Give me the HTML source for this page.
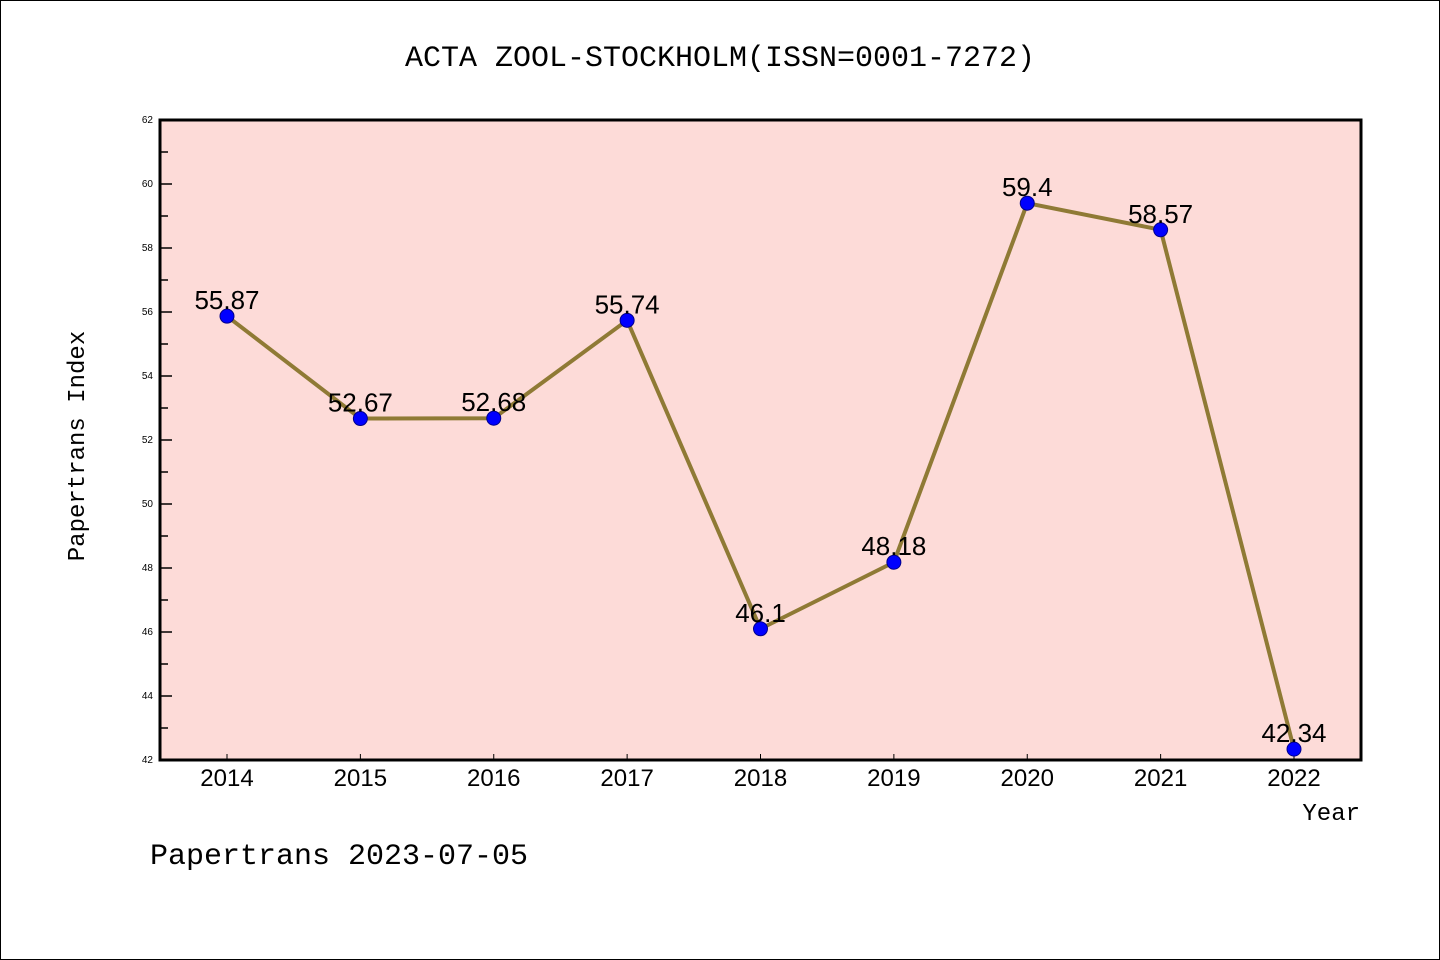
<!DOCTYPE html>
<html><head><meta charset="utf-8"><style>body{margin:0;background:#fff}svg{display:block}</style></head>
<body>
<svg width="1440" height="960" xmlns="http://www.w3.org/2000/svg" font-family="'Liberation Mono','DejaVu Sans Mono',monospace">
<rect x="0.5" y="0.5" width="1439" height="959" fill="#fff" stroke="#000"/>
<text x="720" y="66" text-anchor="middle" font-size="30">ACTA ZOOL-STOCKHOLM(ISSN=0001-7272)</text>
<rect x="160" y="120" width="1201" height="640" fill="#fddbd8"/>
<g id="axes"></g>
<g id="series"></g>
<rect x="160" y="120" width="1201" height="640" fill="none" stroke="#000" stroke-width="3"/>
<text transform="translate(84,446) rotate(-90)" text-anchor="middle" font-size="24">Papertrans Index</text>
<text x="1360" y="820" text-anchor="end" font-size="24">Year</text>
<text x="150" y="864" font-size="30">Papertrans 2023-07-05</text>
</svg>
<script>
const years=[2014,2015,2016,2017,2018,2019,2020,2021,2022];
const values=[55.87,52.67,52.68,55.74,46.1,48.18,59.4,58.57,42.34];
const labels=["55.87","52.67","52.68","55.74","46.1","48.18","59.4","58.57","42.34"];
const yTicks=[42,44,46,48,50,52,54,56,58,60,62];
const NS="http://www.w3.org/2000/svg";
const yMin=42,yMax=62,plotTop=120,plotBot=760;
function ys(v){return plotBot-(v-yMin)/(yMax-yMin)*(plotBot-plotTop);}
function xs(y){return 227+(y-2014)*133.375;}
function mk(t,a,p){const e=document.createElementNS(NS,t);for(const k in a)e.setAttribute(k,a[k]);p.appendChild(e);return e;}
const ax=document.getElementById('axes'),sr=document.getElementById('series');
yTicks.forEach((v,i)=>{
 const t=mk('text',{x:153,y:ys(v)+3,'text-anchor':'end','font-size':10,'font-family':'Liberation Sans,sans-serif'},ax);
 
 
 t.textContent=v;
 mk('line',{x1:160,x2:172,y1:ys(v),y2:ys(v),stroke:'#000','stroke-width':1.5},ax);
 if(i<yTicks.length-1){const m=ys(v+1);mk('line',{x1:160,x2:168,y1:m,y2:m,stroke:'#000','stroke-width':1.5},ax);}
});
years.forEach(y=>{
 mk('line',{x1:xs(y),x2:xs(y),y1:760,y2:754,stroke:'#000','stroke-width':1},ax);
 const t=mk('text',{x:xs(y),y:786,'text-anchor':'middle','font-size':24,'font-family':'Liberation Sans,sans-serif'},ax);
 
 
 t.textContent=y;
});
const pts=years.map((y,i)=>xs(y)+','+ys(values[i])).join(' ');
const pl=mk('polyline',{points:pts,fill:'none',stroke:'#8f7a35','stroke-width':4},sr);


years.forEach((y,i)=>{
 const c=mk('circle',{cx:xs(y),cy:ys(values[i]),r:7,fill:'#0000ff',stroke:'#00008b','stroke-width':1},sr);
 
 
 const t=mk('text',{x:xs(y),y:ys(values[i])-7,'text-anchor':'middle','font-size':26,'font-family':'Liberation Sans,sans-serif'},sr);
 
 
 t.textContent=labels[i];
});
</script>
</body></html>
